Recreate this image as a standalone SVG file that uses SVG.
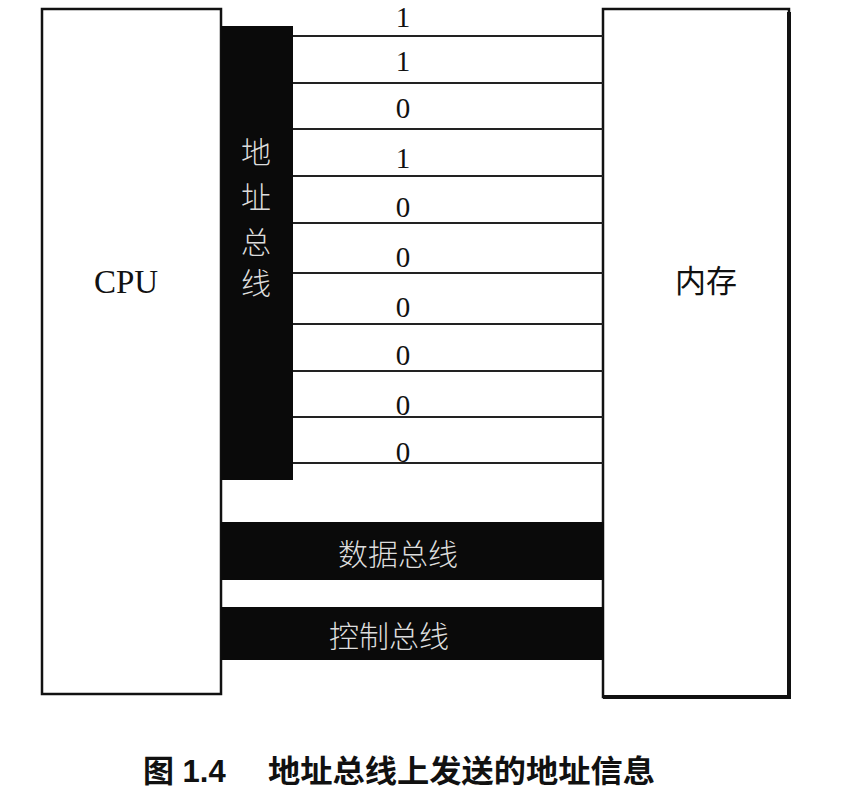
<svg xmlns="http://www.w3.org/2000/svg" width="868" height="792" viewBox="0 0 868 792">
<style>
.box{fill:#fff;stroke:#111;stroke-width:2.5}
.bar{fill:#0a0a0a}
.wire{stroke:#222;stroke-width:2.2}
.bit{font-family:"Liberation Serif","DejaVu Serif",serif;font-size:29px;fill:#111;text-anchor:middle}
.wt{font-family:"Noto Sans CJK SC",sans-serif;font-size:30px;fill:#ddd;text-anchor:middle;font-weight:300}
.lbl{font-family:"Noto Sans CJK SC",sans-serif;font-size:31px;fill:#111;text-anchor:middle}
.cap{font-family:"Liberation Sans","Noto Sans CJK SC",sans-serif;font-size:31px;font-weight:bold;fill:#111}
</style>
<rect width="868" height="792" fill="#fff"/>
<g id="cpu">
<rect class="box" x="42" y="9" width="179" height="685"/>
<text x="126" y="293" style="font-family:'Liberation Serif',serif;font-size:33px;fill:#111" text-anchor="middle">CPU</text>
</g>
<g id="memory">
<rect class="box" x="603" y="9" width="186" height="688"/>
<path d="M789 12 V697 H603" fill="none" stroke="#111" stroke-width="4"/>
<text class="lbl" x="706" y="292">内存</text>
</g>
<g id="address-bus">
<rect class="bar" x="221" y="26" width="72" height="454"/>
<text class="wt" x="256" y="163">地</text>
<text class="wt" x="256" y="208">址</text>
<text class="wt" x="256" y="253">总</text>
<text class="wt" x="256" y="294">线</text>
</g>
<g id="connectors">
<line class="wire" x1="293" y1="36" x2="603" y2="36"/>
<line class="wire" x1="293" y1="83" x2="603" y2="83"/>
<line class="wire" x1="293" y1="129" x2="603" y2="129"/>
<line class="wire" x1="293" y1="176" x2="603" y2="176"/>
<line class="wire" x1="293" y1="223" x2="603" y2="223"/>
<line class="wire" x1="293" y1="273" x2="603" y2="273"/>
<line class="wire" x1="293" y1="324" x2="603" y2="324"/>
<line class="wire" x1="293" y1="371" x2="603" y2="371"/>
<line class="wire" x1="293" y1="417" x2="603" y2="417"/>
<line class="wire" x1="293" y1="463" x2="603" y2="463"/>
</g>
<g id="bits">
<text class="bit" x="403" y="27">1</text>
<text class="bit" x="403" y="71">1</text>
<text class="bit" x="403" y="118">0</text>
<text class="bit" x="403" y="168">1</text>
<text class="bit" x="403" y="217">0</text>
<text class="bit" x="403" y="267">0</text>
<text class="bit" x="403" y="317">0</text>
<text class="bit" x="403" y="365">0</text>
<text class="bit" x="403" y="415">0</text>
<text class="bit" x="403" y="462">0</text>
</g>
<g id="data-bus">
<rect class="bar" x="221" y="522" width="383" height="58"/>
<text class="wt" x="398" y="565">数据总线</text>
</g>
<g id="control-bus">
<rect class="bar" x="221" y="607" width="383" height="53"/>
<text class="wt" x="389" y="647">控制总线</text>
</g>
<g id="caption">
<text class="cap" x="143" y="782">图 1.4</text>
<text class="cap" x="268" y="782" textLength="387" lengthAdjust="spacingAndGlyphs">地址总线上发送的地址信息</text>
</g>
</svg>
